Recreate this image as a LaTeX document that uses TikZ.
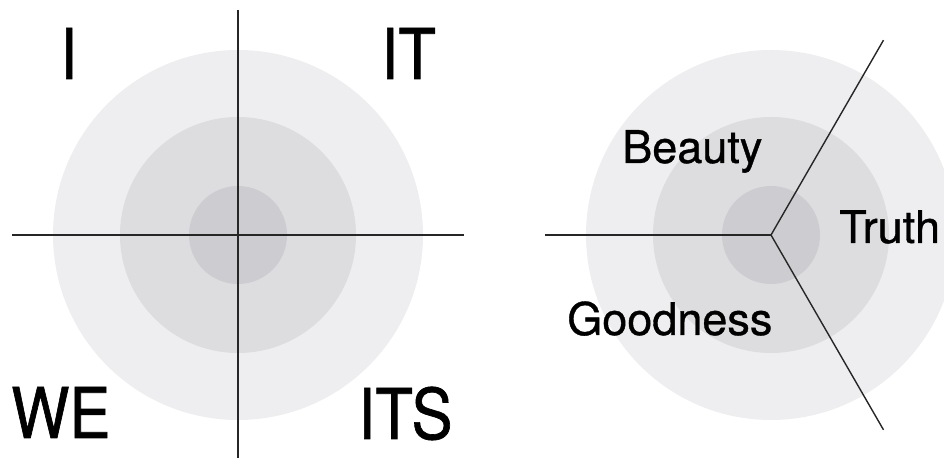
\documentclass[tikz,border=0pt]{standalone}
\usepackage{fontspec}
\setmainfont[FakeBold=0.8]{TeX Gyre Heros}
\newfontfamily\quadfont[FakeStretch=0.88, FakeBold=0.9]{TeX Gyre Heros}
\usetikzlibrary{positioning, calc}

\definecolor{ringouter}{RGB}{238,238,240}
\definecolor{ringmiddle}{RGB}{221,221,224}
\definecolor{ringinner}{RGB}{205,205,209}

\tikzset{
  axis/.style={draw=black!85, line width=1.05pt},
  quadlabel/.style={anchor=base west, inner sep=0pt, font=\quadfont\fontsize{52.5}{60}\selectfont},
  valuelabel/.style={anchor=base west, inner sep=0pt, font=\fontsize{33.75}{40}\selectfont},
}

\begin{document}
\begin{tikzpicture}[x=0.75pt,y=0.75pt]
\useasboundingbox (0,0) rectangle (944,459);
\clip (0,0) rectangle (944,459);

% rings
\coordinate (quads) at (238,224);
\coordinate (values) at (771,224);
\foreach \c in {quads,values} {
  \fill[ringouter] (\c) circle[radius=185];
  \fill[ringmiddle] (\c) circle[radius=118];
  \fill[ringinner] (\c) circle[radius=49];
}

% four quadrants
\coordinate (qN) at ($(quads)+(90:225)$);
\coordinate (qS) at ($(quads)+(-90:223)$);
\coordinate (qW) at ($(quads)+(180:226)$);
\coordinate (qE) at ($(quads)+(0:226)$);
\draw[axis] (qN) -- (qS);
\draw[axis] (qW) -- (qE);

\node[quadlabel] (i) at (60,380) {I};
\node[quadlabel] (it) at (381,380) {IT};
\node[quadlabel] (we) at (11,21) {WE};
\node[quadlabel] (its) at (358,20) {ITS};

% three values
\coordinate (vW) at ($(values)+(180:226)$);
\coordinate (vNE) at ($(values)+(60:225)$);
\coordinate (vSE) at ($(values)+(-60:225)$);
\draw[axis] (vW) -- (values);
\draw[axis] (vNE) -- (values) -- (vSE);

\node[valuelabel] (beauty) at (622,296) {Beauty};
\node[valuelabel] (truth) at (839,216) {Truth};
\node[valuelabel] (goodness) at (567,124) {Goodness};
\end{tikzpicture}
\end{document}
